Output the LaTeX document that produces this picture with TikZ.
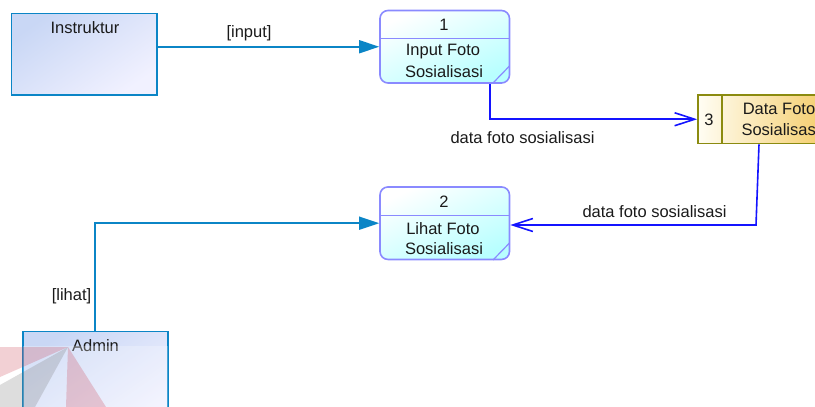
\documentclass[tikz,border=0pt]{standalone}
\usepackage{fontspec}
\setmainfont{Liberation Sans}
\usetikzlibrary{arrows.meta,calc}
\definecolor{actorline}{HTML}{0B85C6}
\definecolor{procline}{HTML}{8A8AFF}
\definecolor{storeline}{HTML}{8B8B10}
\definecolor{flowblue}{HTML}{1414FF}
\definecolor{ink}{HTML}{1A1A1A}
\definecolor{wmred}{HTML}{CC4252}
\definecolor{wmgray}{HTML}{777777}
\definecolor{HeadA}{HTML}{C9D7F5}
\definecolor{HeadB}{HTML}{F1F1FF}
\definecolor{HeadC}{HTML}{B8FFFF}
\definecolor{HeadD}{HTML}{FFFDF2}
\definecolor{HeadE}{HTML}{F4CC68}
\tikzset{
  actorbox/.style={draw=actorline,line width=1.6pt,inner sep=0pt,left color=HeadA,right color=HeadB,shading angle=35},
  procbox/.style={draw=procline,line width=1.6pt,rounded corners=8pt,inner sep=0pt,left color=white,right color=HeadC,shading angle=25,minimum width=129.5pt,minimum height=72.5pt},
  storebox/.style={draw=storeline,line width=1.6pt,inner sep=0pt,left color=HeadD,right color=HeadE,shading angle=88,minimum width=132pt,minimum height=48.5pt},
  divider/.style={line width=1.2pt},
  txt/.style={font=\fontsize{16.5}{18}\selectfont,text=ink,inner sep=0pt},
  inflow/.style={actorline,line width=1.6pt,-{Triangle[length=20pt,width=13pt]}},
  dataflow/.style={flowblue,line width=1.6pt,-{Straight Barb[length=20pt,width=13pt,line width=1.6pt]}},
}
\begin{document}
\begin{tikzpicture}[x=1pt,y=-1pt]
\useasboundingbox (0,0) rectangle (815,407);
\clip (0,0) rectangle (815,407);
% nodes
\node[actorbox,minimum width=145.5pt,minimum height=81.5pt] (instruktur) at (84.25,54.25) {};
\node[actorbox,minimum width=145pt,minimum height=100pt] (admin) at (95.2,381.5) {};
\node[procbox] (p1) at (444.75,46.75) {};
\node[procbox] (p2) at (444.75,223.2) {};
\node[storebox] (store) at (764,119.25) {};
% compartments
\draw[procline,divider] (p1.west |- 0,38.5) -- (p1.east |- 0,38.5);
\draw[procline,divider] (493,83) -- (509.5,66);
\draw[procline,divider] (p2.west |- 0,215.5) -- (p2.east |- 0,215.5);
\draw[procline,divider] (493,260) -- (509.5,243);
\draw[storeline,line width=1.4pt] (722,95) -- (722,143.5);
% connectors
\draw[inflow] (p1.west -| instruktur.east) -- (p1.west);
\draw[inflow] (admin.north) |- (p2.west);
\draw[dataflow] ([xshift=45.5pt]p1.south) |- (store.west);
\coordinate (bend) at (756,225);
\draw[dataflow] ([xshift=-5pt]store.south) -- (bend) -- (bend -| p2.east);
% texts
\node[txt] (tInstr) at (85,27.5) {Instruktur};
\node[txt] (tAdmin) at (95.5,345.5) {Admin};
\node[txt] (t1) at (444,24.5) {1};
\node[txt] (t1a) at (443,52) {Input Foto};
\node[txt] (t1b) at (444,72) {Sosialisasi};
\node[txt] (t2) at (444,201.5) {2};
\node[txt] (t2a) at (443,229) {Lihat Foto};
\node[txt] (t2b) at (444,249) {Sosialisasi};
\node[txt] (t3) at (709,120) {3};
\node[txt] (t3a) at (779,108.5) {Data Foto};
\node[txt] (t3b) at (780.5,129.5) {Sosialisasi};
\node[txt] (lInput) at (249,33) {[input]};
\node[txt] (lD1) at (522.5,138) {data foto sosialisasi};
\node[txt] (lD2) at (654.5,212) {data foto sosialisasi};
\node[txt] (lLihat) at (71.5,296.5) {[lihat]};
% watermark
\fill[white,opacity=.25] (23,346) rectangle (168,407);
\fill[wmred,opacity=.25] (0,347) -- (68,347) -- (0,377) -- cycle;
\fill[wmgray,opacity=.25] (68,347) -- (35,407) -- (0,407) -- (0,385) -- cycle;
\fill[wmred,opacity=.25] (68,347) -- (66,407) -- (106,407) -- cycle;
\end{tikzpicture}
\end{document}
